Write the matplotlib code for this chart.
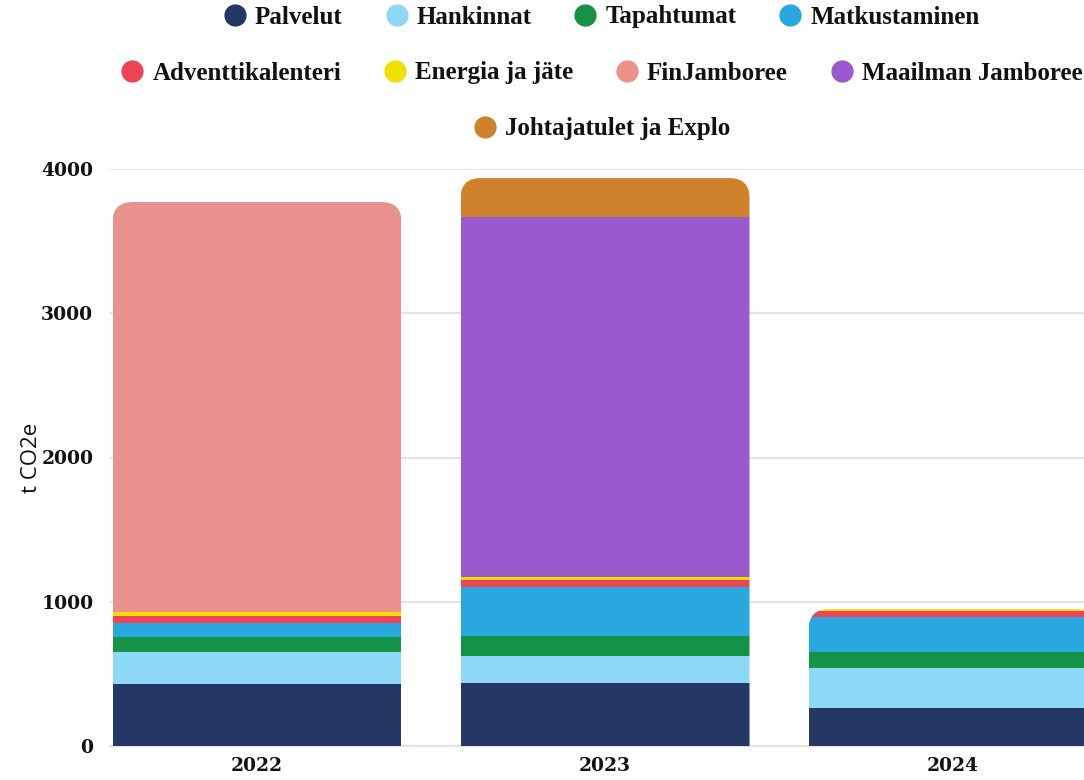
import matplotlib
matplotlib.use("Agg")
import matplotlib.pyplot as plt
import numpy as np
from matplotlib.lines import Line2D
from matplotlib.patches import FancyBboxPatch
from matplotlib.transforms import IdentityTransform

years = ["2022", "2023", "2024"]
series = ["Palvelut", "Hankinnat", "Tapahtumat", "Matkustaminen",
          "Adventtikalenteri", "Energia ja jäte", "FinJamboree",
          "Maailman Jamboree", "Johtajatulet ja Explo"]
palvelut = [428, 435, 266]
hankinnat = [222, 191, 273]
tapahtumat = [106, 136, 115]
matkustaminen = [94, 340, 238]
adventti = [53, 49, 46]
energia = [28, 18, 10]
finjamboree = [2840, 0, 0]
maailman = [0, 2500, 0]
johtajatulet = [0, 268, 0]
values = [palvelut, hankinnat, tapahtumat, matkustaminen, adventti,
          energia, finjamboree, maailman, johtajatulet]
colors = ["#253764", "#8cd8f6", "#149245", "#29a8e0", "#ef4356",
          "#f0e000", "#e8918d", "#9a59cc", "#d0812c"]

fig = plt.figure(figsize=(10.84, 7.8), dpi=100)
ax = fig.add_axes([110 / 1084, 34 / 780, 974 / 1084, 577 / 780])

x = np.arange(len(years))
width = 0.83
bottom = np.zeros(len(years))
rects = [[] for _ in years]
for vals, col in zip(values, colors):
    bars = ax.bar(x, vals, width, bottom=bottom, color=col, linewidth=0, zorder=3)
    for i, b in enumerate(bars):
        rects[i].append(b)
    bottom += np.array(vals)

ax.set_xlim(-0.4224, 2.376)
ax.set_ylim(0, 4000)
ax.set_yticks([0, 1000, 2000, 3000, 4000])
ax.set_xticks(x)
ax.set_xticklabels(years)
ax.grid(axis="y", color="#e3e3e3", linewidth=1.5, zorder=0)
for s in ["top", "right", "left"]:
    ax.spines[s].set_visible(False)
ax.spines["bottom"].set_color("#e3e3e3")
ax.spines["bottom"].set_linewidth(1.5)
ax.tick_params(length=0)
ax.tick_params(axis="y", pad=12)
ax.tick_params(axis="x", pad=8)
for lab in ax.get_xticklabels() + ax.get_yticklabels():
    lab.set_fontfamily("DejaVu Serif")
    lab.set_fontweight("bold")
    lab.set_fontsize(13.5)
    lab.set_color("#111111")

ax.set_ylabel("t CO2e", fontsize=16, family="Open Sans", color="#111111")
ax.yaxis.set_label_coords(-0.070, 0.5)

# rounded top corners: clip each stack in pixel space
for i in range(len(years)):
    x0, y0 = ax.transData.transform((x[i] - width / 2, 0))
    x1, y1 = ax.transData.transform((x[i] + width / 2, bottom[i]))
    clip = FancyBboxPatch((x0, y0 - 60), x1 - x0, y1 - y0 + 60,
                          boxstyle="round,pad=0,rounding_size=20",
                          transform=IdentityTransform())
    for r in rects[i]:
        r.set_clip_path(clip)

handles = [Line2D([], [], marker="o", linestyle="", markersize=15,
                  markerfacecolor=c, markeredgecolor=c) for c in colors]
rows = [range(0, 4), range(4, 8), range(8, 9)]
row_y = [17, 73, 129]
for rw, yy in zip(rows, row_y):
    leg = fig.legend([handles[k] for k in rw], [series[k] for k in rw],
                     loc="center", bbox_to_anchor=(601 / 1084, 1 - yy / 780),
                     ncol=len(rw), frameon=False, handletextpad=0.3,
                     columnspacing=1.65, handlelength=1.0,
                     prop={"family": "Liberation Serif", "weight": "bold", "size": 18})
    for t in leg.get_texts():
        t.set_color("#111111")

fig.savefig("out.png", dpi=100)
